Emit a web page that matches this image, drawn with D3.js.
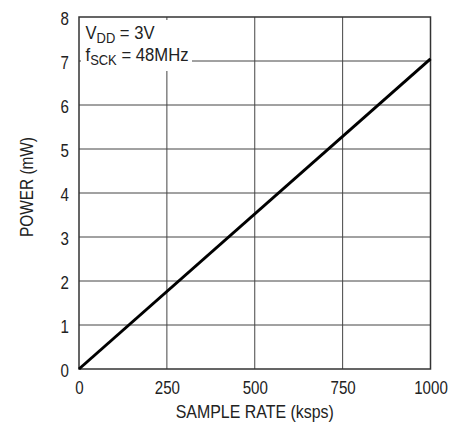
<!DOCTYPE html>
<html>
<head>
<meta charset="utf-8">
<script src="https://cdn.jsdelivr.net/npm/d3@7"></script>
<style>
  body { margin: 0; background: #fff; }
  text { font-family: "Liberation Sans", Arial, sans-serif; fill: #222; }
</style>
</head>
<body>
<svg width="450" height="423"></svg>
<script>
var rate = [0, 1000];
var power = [0, 7.05];
var xTicks = [0, 250, 500, 750, 1000];
var yTicks = [0, 1, 2, 3, 4, 5, 6, 7, 8];

var svg = d3.select("svg"),
    margin = {top: 17, right: 19.5, bottom: 54, left: 79},
    width = svg.attr("width") - margin.left - margin.right,
    height = svg.attr("height") - margin.top - margin.bottom;

var narrow = 0.84; // squeeze text to look like a narrow face

var x = d3.scaleLinear().domain([0, 1000]).range([0, width]),
    y = d3.scaleLinear().domain([0, 8]).range([height, 0]);

var g = svg.append("g")
    .attr("transform", "translate(" + margin.left + "," + margin.top + ")");

// grid
g.selectAll(".vgrid")
  .data(xTicks.slice(1, -1))
  .enter().append("line")
    .attr("x1", function(d) { return x(d); })
    .attr("x2", function(d) { return x(d); })
    .attr("y1", 0).attr("y2", height)
    .attr("stroke", "#444").attr("stroke-width", 1);

g.selectAll(".hgrid")
  .data(yTicks.slice(1, -1))
  .enter().append("line")
    .attr("x1", 0).attr("x2", width)
    .attr("y1", function(d) { return y(d); })
    .attr("y2", function(d) { return y(d); })
    .attr("stroke", "#444").attr("stroke-width", 1);

// white box behind annotation
g.append("rect")
    .attr("x", 2).attr("y", 3)
    .attr("width", 111).attr("height", 51)
    .attr("fill", "#fff");

// frame
g.append("rect")
    .attr("width", width).attr("height", height)
    .attr("fill", "none").attr("stroke", "#333").attr("stroke-width", 1.5);

// axes labels
var xAxis = g.append("g")
    .attr("transform", "translate(0," + height + ")")
    .call(d3.axisBottom(x).tickValues(xTicks).tickFormat(d3.format("d")).tickSize(0).tickPadding(12));
xAxis.select(".domain").remove();
xAxis.selectAll("text")
    .style("font-size", "18px").attr("fill", "#222")
    .attr("transform", "scale(" + narrow + ",1)");

var yAxis = g.append("g")
    .call(d3.axisLeft(y).tickValues(yTicks).tickSize(0).tickPadding(12));
yAxis.select(".domain").remove();
yAxis.selectAll("text")
    .style("font-size", "18px").attr("fill", "#222")
    .attr("dy", "0.4em")
    .attr("transform", "scale(" + narrow + ",1)");

// line
g.append("path")
    .datum(rate.map(function(d, i) { return [d, power[i]]; }))
    .attr("fill", "none")
    .attr("stroke", "#000")
    .attr("stroke-width", 3)
    .attr("d", d3.line().x(function(d) { return x(d[0]); }).y(function(d) { return y(d[1]); }));

// annotation
var ann = g.append("text").attr("x", 6.5).attr("y", 22)
    .style("font-size", "18px")
    .attr("textLength", 69).attr("lengthAdjust", "spacingAndGlyphs");
ann.append("tspan").text("V");
ann.append("tspan").attr("dy", 4).style("font-size", "14px").text("DD");
ann.append("tspan").attr("dy", -4).text(" = 3V");
var ann2 = g.append("text").attr("x", 6.5).attr("y", 44)
    .style("font-size", "18px")
    .attr("textLength", 103).attr("lengthAdjust", "spacingAndGlyphs");
ann2.append("tspan").text("f");
ann2.append("tspan").attr("dy", 4).style("font-size", "14px").text("SCK");
ann2.append("tspan").attr("dy", -4).text(" = 48MHz");

// axis titles
svg.append("text")
    .attr("x", margin.left + width / 2 - 79)
    .attr("y", 418)
    .style("font-size", "19px")
    .attr("textLength", 158).attr("lengthAdjust", "spacingAndGlyphs")
    .text("SAMPLE RATE (ksps)");

svg.append("text")
    .attr("transform", "translate(33,237) rotate(-90)")
    .style("font-size", "19px")
    .attr("textLength", 100).attr("lengthAdjust", "spacingAndGlyphs")
    .text("POWER (mW)");
</script>
</body>
</html>
